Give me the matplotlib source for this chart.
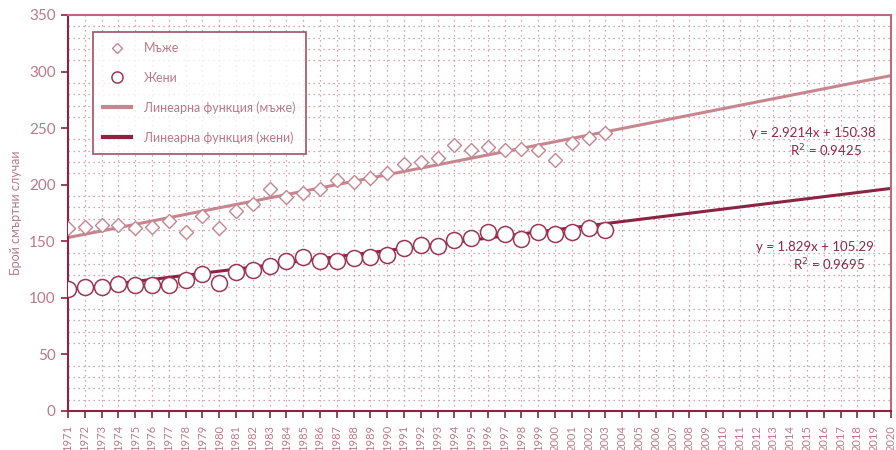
import numpy as np
import matplotlib.pyplot as plt
from matplotlib.lines import Line2D

plt.rcParams['font.family'] = ['Lato', 'DejaVu Sans']

years = np.arange(1971, 2004)
men = [162, 163, 164, 164, 162, 163, 168, 158, 172, 162, 177, 183, 196, 189, 193, 196, 204,
       202, 206, 210, 218, 220, 224, 235, 231, 233, 231, 232, 231, 222, 237, 241, 246]
women = [108, 110, 110, 112, 111, 111, 111, 116, 121, 113, 123, 125, 128, 133, 136, 133, 133,
         135, 136, 138, 144, 147, 146, 151, 153, 158, 156, 152, 158, 156, 158, 162, 160]

# linear trends, x counted from 1 at 1971
men_slope, men_icpt, men_r2 = 2.9214, 150.38, 0.9425
women_slope, women_icpt, women_r2 = 1.829, 105.29, 0.9695
trend_years = np.arange(1971, 2021)

c_men = '#c7868f'
c_women = '#8c2340'
c_circ = '#9b3753'
c_text = '#b87a8a'
c_eq = '#8b2a47'
c_grid = '#c98a9a'

fig = plt.figure(figsize=(8.96, 4.5), dpi=100)
ax = fig.add_axes([68/896, 1-411/450, (891-68)/896, (411-15)/450])

xi = trend_years - 1970
ax.plot(trend_years, men_slope*xi + men_icpt, color=c_men, lw=2.2, zorder=2)
ax.plot(trend_years, women_slope*xi + women_icpt, color=c_women, lw=2.2, zorder=2)

ax.plot(years, men, ls='none', marker='D', ms=7.5, mfc='white', mec=c_men, mew=1.0, zorder=3)
ax.plot(years, women, ls='none', marker='o', ms=11.5, mfc='white', mec=c_circ, mew=1.1, zorder=3)

ax.set_xlim(1971, 2020)
ax.set_ylim(0, 350)
ax.set_xticks(trend_years)
ax.set_xticklabels([str(y) for y in trend_years], rotation=90, fontsize=8, color=c_text)
ax.set_yticks(np.arange(0, 351, 50))
ax.tick_params(axis='y', labelsize=11, colors=c_text, length=5, width=1.2, color=c_women, pad=4)
ax.tick_params(axis='x', length=5, width=1.2, color=c_women, pad=5)
ax.set_yticks(np.arange(0, 351, 10), minor=True)
ax.tick_params(axis='y', which='minor', length=0)

ax.grid(True, which='major', axis='x', ls=(0, (1, 3)), color=c_grid, lw=0.9)
ax.grid(True, which='minor', axis='y', ls=(0, (1, 3)), color=c_grid, lw=0.9)
ax.set_axisbelow(True)

for s in ['left', 'bottom']:
    ax.spines[s].set_color(c_women)
    ax.spines[s].set_linewidth(1.5)
for s in ['top', 'right']:
    ax.spines[s].set_color('#b86a7e')
    ax.spines[s].set_linewidth(1.5)

ax.set_ylabel('Брой смъртни случаи', fontsize=9, color=c_text, labelpad=5)

handles = [
    Line2D([], [], ls='none', marker='D', ms=5, mfc='white', mec=c_men, mew=1.0),
    Line2D([], [], ls='none', marker='o', ms=8, mfc='white', mec=c_circ, mew=1.1),
    Line2D([], [], color=c_men, lw=3),
    Line2D([], [], color=c_women, lw=3),
]
labels = ['Мъже', 'Жени', 'Линеарна функция (мъже)', 'Линеарна функция (жени)']
leg = ax.legend(handles, labels, loc='upper left', bbox_to_anchor=(25/823, 1-17/396),
                fontsize=9, frameon=True, fancybox=False, labelspacing=1.4,
                handlelength=2.2, handletextpad=1.1, borderpad=0.8, borderaxespad=0)
leg.get_frame().set_edgecolor(c_women)
leg.get_frame().set_linewidth(1.2)
for t in leg.get_texts():
    t.set_color(c_text)

ax.text(2015.35, 246, 'y = 2.9214x + 150.38', fontsize=9.5, color=c_eq, ha='center', va='center')
ax.text(2016.1, 230, 'R$^2$ = %.4f' % men_r2, fontsize=9.5, color=c_eq, ha='center', va='center')
ax.text(2015.5, 145, 'y = 1.829x + 105.29', fontsize=9.5, color=c_eq, ha='center', va='center')
ax.text(2016.3, 129, 'R$^2$ = %.4f' % women_r2, fontsize=9.5, color=c_eq, ha='center', va='center')

plt.savefig('out.png', dpi=100)
